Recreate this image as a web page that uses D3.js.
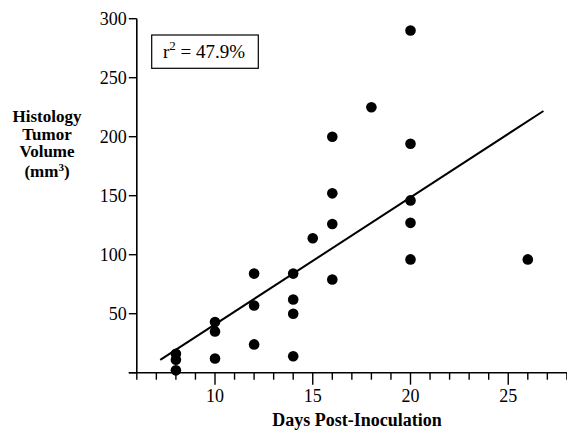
<!DOCTYPE html>
<meta charset="utf-8">
<script src="https://d3js.org/d3.v7.min.js"></script>
<style>
  body { margin: 0; background: #fff; }
  text { font-family: "Liberation Serif", "Times New Roman", serif; fill: #000; }
</style>
<div id="my_dataviz"></div>
<script>
  // data
  var days = [8, 8, 8, 10, 10, 10, 12, 12, 12, 14, 14, 14, 14, 15, 16, 16, 16, 16, 18, 20, 20, 20, 20, 20, 26];
  var volume = [16, 11, 2, 43, 35, 12, 84, 57, 24, 84, 62, 50, 14, 114, 200, 152, 126, 79, 225, 290, 194, 146, 127, 96, 96];
  var fitX = [7.2, 26.8];
  var fitY = [10.8, 221.8];
  var xMajor = [10, 15, 20, 25];
  var yTicks = [0, 50, 100, 150, 200, 250, 300];
  var r2Label = "47.9%";

  var width = 567, height = 431;

  var svg = d3.select("#my_dataviz")
    .append("svg")
    .attr("width", width)
    .attr("height", height);

  var x = d3.scaleLinear().domain([6, 28]).range([136.8, 566.9]);
  var y = d3.scaleLinear().domain([0, 300]).range([372.7, 18.7]);

  // X axis: minor ticks every day, longer ticks with labels at 5s
  var xg = svg.append("g").attr("transform", "translate(0," + y(0) + ")");
  xg.append("line")
    .attr("x1", x(6) - 8).attr("x2", width)
    .attr("stroke", "#000").attr("stroke-width", 1.6);
  xg.selectAll(".minor")
    .data(d3.range(6, 29))
    .enter().append("line")
    .attr("x1", function (d) { return x(d); })
    .attr("x2", function (d) { return x(d); })
    .attr("y1", 0)
    .attr("y2", function (d) { return xMajor.indexOf(d) >= 0 ? 12 : 7; })
    .attr("stroke", "#000").attr("stroke-width", 1.4);
  xg.selectAll(".lab")
    .data(xMajor)
    .enter().append("text")
    .attr("x", function (d) { return x(d); })
    .attr("y", 29)
    .attr("text-anchor", "middle")
    .style("font-size", "18px")
    .text(function (d) { return d; });

  // Y axis
  var yg = svg.append("g").attr("transform", "translate(" + x(6) + ",0)");
  yg.append("line")
    .attr("y1", y(300)).attr("y2", y(0))
    .attr("stroke", "#000").attr("stroke-width", 1.6);
  yg.selectAll(".tick")
    .data(yTicks)
    .enter().append("line")
    .attr("x1", -8).attr("x2", 0)
    .attr("y1", function (d) { return y(d); })
    .attr("y2", function (d) { return y(d); })
    .attr("stroke", "#000").attr("stroke-width", 1.4);
  yg.selectAll(".lab")
    .data(yTicks.filter(function (d) { return d > 0; }))
    .enter().append("text")
    .attr("x", -10)
    .attr("y", function (d) { return y(d); })
    .attr("dy", "0.33em")
    .attr("text-anchor", "end")
    .style("font-size", "18px")
    .text(function (d) { return d; });

  // axis titles
  svg.append("text")
    .attr("x", 357)
    .attr("y", 426)
    .attr("text-anchor", "middle")
    .style("font-size", "18px")
    .style("font-weight", "bold")
    .text("Days Post-Inoculation");

  var yt = svg.append("text")
    .attr("text-anchor", "middle")
    .style("font-size", "17px")
    .style("font-weight", "bold");
  ["Histology", "Tumor", "Volume"].forEach(function (s, i) {
    yt.append("tspan").attr("x", 47).attr("y", 122 + i * 17.6).text(s);
  });
  yt.append("tspan").attr("x", 47).attr("y", 177).text("(mm");
  yt.append("tspan").attr("dy", -6).style("font-size", "11px").text("3");
  yt.append("tspan").attr("dy", 6).text(")");

  // regression line
  svg.append("path")
    .datum(d3.zip(fitX, fitY))
    .attr("d", d3.line()
      .x(function (d) { return x(d[0]); })
      .y(function (d) { return y(d[1]); }))
    .attr("stroke", "#000")
    .attr("stroke-width", 2)
    .attr("fill", "none");

  // points
  svg.append("g")
    .selectAll("circle")
    .data(d3.zip(days, volume))
    .enter()
    .append("circle")
    .attr("cx", function (d) { return x(d[0]); })
    .attr("cy", function (d) { return y(d[1]); })
    .attr("r", 5.3)
    .style("fill", "#000");

  // r-squared box
  svg.append("rect")
    .attr("x", 151.7).attr("y", 35)
    .attr("width", 106.6).attr("height", 33.3)
    .attr("fill", "#fff")
    .attr("stroke", "#000")
    .attr("stroke-width", 1.2);
  var rt = svg.append("text")
    .attr("x", 163)
    .attr("y", 58)
    .style("font-size", "19px");
  rt.append("tspan").text("r");
  rt.append("tspan").attr("dy", -8).style("font-size", "13px").text("2");
  rt.append("tspan").attr("dy", 8).text(" = " + r2Label);
</script>
